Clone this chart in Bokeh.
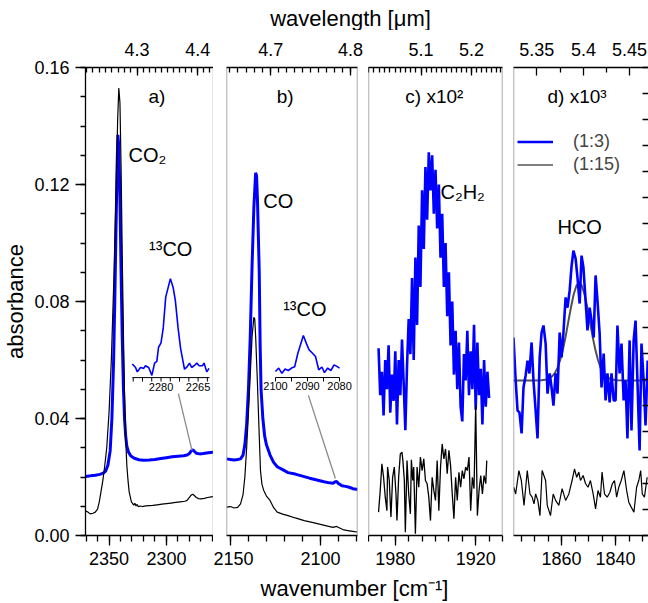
from bokeh.plotting import figure
from bokeh.models import (Range1d, LinearAxis, FixedTicker, SingleIntervalTicker,
                          CustomJSTickFormatter, PrintfTickFormatter, Label, Legend,
                          LegendItem, Span)
from bokeh.layouts import row, column
from bokeh.core.properties import value
from bokeh.embed import file_html
from bokeh.resources import INLINE

FONT = "Liberation Sans"
BLUE = "#0000ff"
BLACK = "#000000"
EDGE = "#8a8a8a"
FIT = "#505050"

# ---------------- data (absorbance as plotted) ----------------
# panel a: CO2 region
a_wn_blk = [2370.5, 2368.5, 2366.5, 2364, 2362, 2360, 2358.5, 2357, 2355.5, 2354, 2352, 2350, 2348, 2346,
            2344, 2342.5, 2341.5, 2340.5, 2339.5, 2338.5, 2337.5, 2336.5, 2335.5, 2334.5, 2333.5, 2332.5,
            2331.5, 2330.5, 2329.5, 2328.5, 2327.5, 2326.5, 2325.5, 2324.5, 2323, 2321, 2318, 2315, 2312,
            2308, 2304, 2300, 2296, 2292, 2288, 2284, 2282, 2280, 2278.5, 2277, 2275.5, 2274, 2272, 2270,
            2267, 2264, 2261, 2259]
a_val_blk = [0.0085, 0.0080, 0.0074, 0.0076, 0.0080, 0.0090, 0.0115, 0.0150, 0.0185, 0.0230, 0.0300, 0.0420,
             0.0600, 0.0850, 0.1150, 0.1420, 0.1530, 0.1480, 0.1260, 0.0960, 0.0700, 0.0480, 0.0330, 0.0240,
             0.0190, 0.0150, 0.0132, 0.0115, 0.0110, 0.0104, 0.0110, 0.0101, 0.0106, 0.0098, 0.0101, 0.0099,
             0.0101, 0.0102, 0.0103, 0.0105, 0.0107, 0.0109, 0.0111, 0.0113, 0.0115, 0.0117, 0.0120, 0.0130,
             0.0138, 0.0141, 0.0136, 0.0130, 0.0126, 0.0125, 0.0127, 0.0130, 0.0132, 0.0133]
a_wn_blu = [2370.5, 2366, 2362, 2358, 2355, 2353, 2351, 2349, 2347.5, 2346, 2345, 2344, 2343, 2342.3, 2341.5,
            2340.5, 2339.5, 2338.5, 2337.5, 2336.5, 2335.5, 2334.5, 2333, 2331, 2328, 2324, 2320, 2315, 2310,
            2305, 2300, 2295, 2290, 2285, 2282, 2280, 2278.5, 2277, 2275.5, 2274, 2271, 2268, 2265, 2262, 2259]
a_val_blu = [0.0202, 0.0204, 0.0206, 0.0209, 0.0213, 0.0220, 0.0240, 0.0290, 0.0400, 0.0600, 0.0800, 0.1030,
             0.1260, 0.1370, 0.1330, 0.1150, 0.0900, 0.0680, 0.0510, 0.0400, 0.0340, 0.0305, 0.0285, 0.0272,
             0.0264, 0.0259, 0.0257, 0.0258, 0.0260, 0.0263, 0.0266, 0.0269, 0.0271, 0.0273, 0.0275, 0.0280,
             0.0289, 0.0293, 0.0287, 0.0281, 0.0279, 0.0280, 0.0282, 0.0284, 0.0285]
# inset a: 13CO2 band (normalised)
ia_wn = [2291.6, 2290.3, 2289.6, 2288.3, 2287.0, 2286.3, 2285.0, 2283.7, 2282.6, 2281.7, 2281.0, 2280.0,
         2279.1, 2278.1, 2277.1, 2276.2, 2275.1, 2274.2, 2273.1, 2272.1, 2271.1, 2270.5, 2269.4, 2268.5,
         2267.6, 2266.6, 2265.5, 2264.6, 2263.2, 2262.6, 2261.5, 2260.6]
ia_val = [0.03, -0.01, -0.06, -0.01, -0.02, 0.01, -0.01, -0.10, 0.04, 0.06, 0.22, 0.27, 0.44, 0.79, 0.90,
          1.0, 0.90, 0.75, 0.44, 0.21, 0.06, -0.03, 0.0, 0.04, -0.01, 0.01, 0.04, 0.01, 0.01, 0.04, -0.06, -0.02]
ia_ticks = [2291.25, 2287.5, 2283.75, 2280, 2276.25, 2272.5, 2268.75, 2265, 2261.25]
ia_labels = [2280, 2265]

# panel b: CO region
b_wn_blu = [2152.2, 2150, 2148, 2146, 2144.4, 2143, 2142, 2141, 2140, 2139, 2138, 2137, 2136, 2135.5, 2135,
            2134, 2133.5, 2133, 2132, 2131, 2130, 2128, 2126, 2124, 2121, 2118, 2114, 2110, 2106, 2102, 2098,
            2095, 2093, 2092, 2091, 2090, 2088, 2086, 2084, 2082, 2080, 2079.4]
b_val_blu = [0.0262, 0.0260, 0.0258, 0.0260, 0.0262, 0.0275, 0.031, 0.038, 0.050, 0.068, 0.092, 0.112, 0.124,
             0.123, 0.115, 0.090, 0.065, 0.050, 0.040, 0.034, 0.031, 0.0275, 0.025, 0.0235, 0.0225, 0.0215,
             0.0210, 0.0203, 0.0196, 0.0190, 0.0184, 0.0180, 0.0179, 0.0183, 0.0185, 0.0178, 0.0170, 0.0168,
             0.0165, 0.0160, 0.0158, 0.0157]
b_wn_blk = [2152.2, 2150, 2148, 2146, 2144.4, 2143, 2142, 2141, 2140, 2139, 2138, 2137, 2136.5, 2136, 2135,
            2134, 2133.3, 2132.5, 2131.5, 2130, 2128, 2126, 2124, 2121, 2118, 2114, 2109, 2104, 2100, 2096,
            2093, 2091, 2089, 2087, 2084, 2081, 2079.4]
b_val_blk = [0.0097, 0.0099, 0.0094, 0.0096, 0.0108, 0.0140, 0.020, 0.030, 0.042, 0.055, 0.068, 0.0746, 0.074,
             0.068, 0.052, 0.034, 0.022, 0.0175, 0.0154, 0.0135, 0.012, 0.0095, 0.0080, 0.0073, 0.0068, 0.0060,
             0.0051, 0.0044, 0.0038, 0.0032, 0.0028, 0.0031, 0.0025, 0.0019, 0.0016, 0.0013, 0.0012]
# inset b: 13CO band (normalised)
ib_wn = [2100, 2099, 2098, 2097, 2096, 2095, 2094, 2093, 2092.5, 2091.3, 2090.3, 2089.5, 2088.5, 2087.5,
         2086.5, 2085.5, 2084.7, 2083.7, 2082.7, 2081.7, 2080.7, 2080]
ib_val = [-0.03, 0.07, -0.08, 0.04, 0.0, 0.07, 0.11, 0.5, 0.64, 1.0, 0.76, 0.59, 0.5, 0.4, 0.02, 0.1, -0.06,
          0.07, 0.0, 0.16, 0.11, 0.07]
ib_ticks = [2100, 2095, 2090, 2085, 2080]
ib_labels = [2100, 2090, 2080]

# panel c: C2H2 region (x10^2, offset)
c_wn_blk = [1992.5, 1991.25, 1990.0, 1988.75, 1987.5, 1986.25, 1985.75, 1984.5, 1983.25, 1982.0, 1980.75,
            1979.5, 1978.75, 1977.5, 1976.25, 1975.0, 1974.25, 1973.25, 1972.5, 1971.25, 1970.0, 1968.75,
            1968.0, 1967.0, 1966.25, 1965.0, 1963.75, 1962.5, 1961.25, 1960.0, 1958.75, 1957.5, 1956.25,
            1955.0, 1953.75, 1952.5, 1951.25, 1950.0, 1948.75, 1947.5, 1946.25, 1945.0, 1943.75, 1942.5,
            1941.25, 1940.0, 1938.75, 1937.5, 1936.25, 1935.0, 1933.75, 1932.5, 1931.25, 1930.0, 1928.75,
            1927.5, 1926.25, 1925.0, 1923.75, 1922.5, 1921.25, 1920.0, 1918.75, 1917.5, 1916.25, 1915.0,
            1913.75, 1912.5, 1911.75]
c_val_blk = [0.0080, 0.0154, 0.0245, 0.0199, 0.0131, 0.0085, 0.0234, 0.0188, 0.0063, 0.0199,
             0.0234, 0.0142, 0.0051, 0.0199, 0.0279, 0.0285, 0.0251, 0.0188, 0.0011, 0.0256,
             0.0142, 0.0074, 0.0259, 0.0188, 0.0234, 0.0006, 0.0234, 0.0165, 0.0268, 0.0222,
             0.0262, 0.0188, 0.0177, 0.0131, 0.0051, 0.0199, 0.0154, 0.0120, 0.0256, 0.0085,
             0.0234, 0.0313, 0.0262, 0.0296, 0.0211, 0.0291, 0.0239, 0.0142, 0.0057, 0.0199,
             0.0120, 0.0216, 0.0165, 0.0222, 0.0194, 0.0234, 0.0222, 0.0268, 0.0085, 0.0199,
             0.0160, 0.0444, 0.0068, 0.0154, 0.0205, 0.0142, 0.0205, 0.0177, 0.0256]
c_wn_blu = [1992.5, 1991.25, 1990.0, 1988.75, 1987.5, 1986.25, 1985.0, 1983.75, 1982.5, 1981.25, 1980.0,
            1978.75, 1977.5, 1976.25, 1975.0, 1973.75, 1972.5, 1971.25, 1970.0, 1968.75, 1967.5, 1966.25,
            1965.0, 1963.75, 1962.5, 1961.25, 1960.0, 1958.75, 1957.5, 1956.25, 1955.0, 1953.75, 1952.5,
            1951.25, 1950.0, 1948.75, 1947.5, 1946.25, 1945.0, 1943.75, 1942.5, 1941.25, 1940.0, 1938.75,
            1937.5, 1936.25, 1935.0, 1933.75, 1932.5, 1931.25, 1930.0, 1928.75, 1927.5, 1926.25, 1925.0,
            1923.75, 1922.5, 1921.25, 1920.0, 1918.75, 1917.5, 1916.25, 1915.0, 1913.75, 1912.5, 1911.25,
            1910.0]
c_val_blu = [0.064, 0.048, 0.056, 0.041, 0.060, 0.050, 0.065, 0.042, 0.055, 0.046,
             0.063, 0.038, 0.060, 0.048, 0.067, 0.052, 0.036, 0.058, 0.074, 0.062,
             0.088, 0.060, 0.095, 0.072, 0.106, 0.085, 0.118, 0.098, 0.126, 0.108,
             0.131, 0.118, 0.130, 0.110, 0.125, 0.105, 0.120, 0.095, 0.110, 0.085,
             0.100, 0.075, 0.090, 0.065, 0.080, 0.055, 0.070, 0.050, 0.066, 0.044,
             0.039, 0.062, 0.053, 0.070, 0.048, 0.063, 0.050, 0.072, 0.043, 0.066,
             0.048, 0.057, 0.038, 0.060, 0.044, 0.056, 0.047]

# panel d: HCO region (x10^3, offset)
d_wn_blu = [1877.8, 1877.0, 1876.3, 1875.6, 1874.8, 1874.1, 1873.3, 1872.6, 1871.9, 1871.1, 1870.4, 1869.6,
            1868.9, 1868.1, 1867.4, 1866.7, 1865.9, 1865.2, 1864.4, 1863.7, 1863.0, 1862.2, 1861.5, 1860.7,
            1860.0, 1859.3, 1858.5, 1857.8, 1857.0, 1856.3, 1855.6, 1854.8, 1854.1, 1853.3, 1852.6, 1851.9,
            1851.1, 1850.4, 1849.6, 1848.9, 1848.1, 1847.4, 1846.7, 1845.9, 1845.2, 1844.4, 1843.7, 1843.0,
            1842.2, 1841.5, 1840.7, 1840.0, 1839.3, 1838.5, 1837.8, 1837.0, 1836.3, 1835.6, 1834.8, 1834.1,
            1833.3, 1832.6, 1831.9, 1831.1, 1830.4, 1829.6, 1828.9, 1828.1]
d_val_blu = [0.0677, 0.0530, 0.0427, 0.0421, 0.0349, 0.0506, 0.0547, 0.0598, 0.0554, 0.0660,
             0.0530, 0.0427, 0.0332, 0.0609, 0.0694, 0.0718, 0.0656, 0.0485, 0.0554, 0.0506,
             0.0444, 0.0554, 0.0485, 0.0694, 0.0609, 0.0694, 0.0814, 0.0779, 0.0838, 0.0920,
             0.0974, 0.0947, 0.0882, 0.0793, 0.0957, 0.0916, 0.0803, 0.0701, 0.0779, 0.0735,
             0.0677, 0.0889, 0.0803, 0.0691, 0.0506, 0.0622, 0.0462, 0.0554, 0.0455, 0.0554,
             0.0462, 0.0462, 0.0718, 0.0554, 0.0656, 0.0462, 0.0530, 0.0332, 0.0667, 0.0359,
             0.0667, 0.0735, 0.0530, 0.0291, 0.0656, 0.0530, 0.0376, 0.0598]
d_wn_blk = [1877.7, 1877.0, 1875.8, 1874.9, 1873.9, 1872.7, 1871.7, 1870.9, 1870.2, 1869.6, 1868.8, 1868.0,
            1867.2, 1865.9, 1865.3, 1864.1, 1863.1, 1862.2, 1861.0, 1859.8, 1858.5, 1857.3, 1856.1, 1855.2,
            1854.4, 1853.6, 1853.0, 1852.0, 1851.1, 1850.2, 1849.3, 1848.3, 1847.4, 1846.5, 1845.6, 1845.0,
            1844.1, 1843.1, 1842.1, 1841.2, 1840.4, 1839.6, 1838.8, 1837.9, 1836.9, 1835.9, 1835.1, 1834.2,
            1833.2, 1832.2, 1831.4, 1830.7, 1830.1, 1829.3, 1828.3]
d_val_blk = [0.0165, 0.0142, 0.0222, 0.0188, 0.0103, 0.0222, 0.0142, 0.0131, 0.0108, 0.0142,
             0.0120, 0.0068, 0.0222, 0.0188, 0.0103, 0.0068, 0.0142, 0.0120, 0.0103, 0.0160,
             0.0120, 0.0142, 0.0188, 0.0228, 0.0199, 0.0217, 0.0188, 0.0205, 0.0177, 0.0165,
             0.0188, 0.0142, 0.0091, 0.0154, 0.0131, 0.0217, 0.0142, 0.0131, 0.0148, 0.0177,
             0.0188, 0.0131, 0.0165, 0.0188, 0.0222, 0.0154, 0.0114, 0.0097, 0.0080, 0.0165,
             0.0188, 0.0222, 0.0142, 0.0131, 0.0199]
d_fit_wn = [1877.8, 1870, 1867.5, 1865.5, 1863.5, 1862.5, 1861.5, 1860.5, 1859.5, 1858.5, 1857.5, 1856.5,
            1855.5, 1854.5, 1853.5, 1852.5, 1851.5, 1850.5, 1849.5, 1848.5, 1847.5, 1846.5, 1845.5, 1844.5,
            1843.5, 1841.5, 1839.5, 1835, 1827.8]
d_fit_val = [0.0530, 0.0530, 0.0531, 0.0533, 0.0544, 0.0555, 0.0573, 0.0600, 0.0636, 0.0680, 0.0731, 0.0781,
             0.0825, 0.0854, 0.0865, 0.0854, 0.0825, 0.0781, 0.0731, 0.0680, 0.0636, 0.0600, 0.0573, 0.0555,
             0.0544, 0.0533, 0.0531, 0.0530, 0.0530]

# axis ticks
y_major = [0.00, 0.04, 0.08, 0.12, 0.16]
y_minor = [0.01 * i for i in range(17)]
wl_major_a, wl_minor_a = [4.3, 4.4], [round(4.22 + 0.01 * i, 2) for i in range(21)]
wl_major_b, wl_minor_b = [4.7, 4.8], [round(4.65 + 0.01 * i, 2) for i in range(16)]
wl_major_c, wl_minor_c = [5.1, 5.2], [round(5.00 + 0.01 * i, 2) for i in range(27)]
wl_major_d, wl_minor_d = [5.35, 5.4, 5.45], [5.375, 5.425]
right_ticks_d = list(range(19))

# ---------------- helpers ----------------
yr = Range1d(0, 0.16)


def style_axis(ax, t_in, t_out, m_in, m_out, standoff):
    ax.axis_line_color = BLACK
    ax.axis_line_width = 1.3
    ax.major_tick_line_color = BLACK
    ax.major_tick_line_width = 1.3
    ax.minor_tick_line_color = BLACK
    ax.minor_tick_line_width = 1.3
    ax.major_tick_in, ax.major_tick_out = t_in, t_out
    ax.minor_tick_in, ax.minor_tick_out = m_in, m_out
    ax.major_label_text_font = FONT
    ax.major_label_text_font_size = "18px"
    ax.major_label_text_color = BLACK
    ax.major_label_standoff = standoff


def panel(xr, width, mbl, mbr, interval, nminor, wl_major, wl_minor, left=False):
    p = figure(width=width, height=542, x_range=xr, y_range=yr, output_backend="svg",
               toolbar_location=None, y_axis_location="left" if left else None,
               min_border_left=mbl, min_border_right=mbr, min_border_top=37, min_border_bottom=37)
    p.outline_line_color = None
    p.xgrid.visible = False
    p.ygrid.visible = False
    xa = p.xaxis[0]
    xa.ticker = SingleIntervalTicker(interval=interval, num_minor_ticks=nminor)
    style_axis(xa, 0, 10, 0, 6, 6)
    ta = LinearAxis(ticker=FixedTicker(ticks=[10000.0 / w for w in wl_major],
                                       minor_ticks=[10000.0 / w for w in wl_minor]),
                    formatter=CustomJSTickFormatter(code="return String(Math.round(1000000/tick)/100);"))
    style_axis(ta, 8, 0, 5, 0, 12)
    p.add_layout(ta, "above")
    return p


def edge(p, loc):
    p.add_layout(Span(location=loc, dimension="height", line_color=EDGE, line_width=1.4))


def txt(p, x, y, s, size, align="left"):
    p.text(x=[x], y=[y], text=[s], text_font=value(FONT), text_font_size=size,
           text_align=align, text_baseline="middle", text_color=BLACK)


# ---------------- panel a ----------------
fa = panel(Range1d(2370.5, 2259), 213, 82, 0, 50, 5, wl_major_a, wl_minor_a, left=True)
ya = fa.yaxis[0]
ya.ticker = FixedTicker(ticks=y_major, minor_ticks=y_minor)
ya.formatter = PrintfTickFormatter(format="%.2f")
style_axis(ya, 0, 10, 0, 5, 6)
ya.axis_label = "absorbance"
ya.axis_label_text_font = FONT
ya.axis_label_text_font_size = "22px"
ya.axis_label_text_font_style = "normal"
ya.axis_label_text_color = BLACK
ya.axis_label_standoff = 3
edge(fa, fa.x_range.end)

fa.line(a_wn_blu, a_val_blu, line_color=BLUE, line_width=3)
fa.line(a_wn_blk, a_val_blk, line_color=BLACK, line_width=1.2)
fa.line([2289.6, 2277.7], [0.0485, 0.029], line_color=EDGE, line_width=1.3)

fa.extra_x_ranges = {"ia": Range1d(2310.55, 2258.77)}
fa.extra_y_ranges = {"ia": Range1d(-1.92, 3.40)}
ia_level, ia_tick = -0.125, 0.045
fa.line(ia_wn, ia_val, x_range_name="ia", y_range_name="ia", line_color=BLUE, line_width=1.6)
fa.line([ia_wn[0], ia_wn[-1] - 0.2], [ia_level, ia_level], x_range_name="ia", y_range_name="ia",
        line_color=BLACK, line_width=1)
fa.segment(x0=ia_ticks, y0=[ia_level] * len(ia_ticks), x1=ia_ticks,
           y1=[ia_level - ia_tick] * len(ia_ticks), x_range_name="ia", y_range_name="ia",
           line_color=BLACK, line_width=1)
fa.text(x=ia_labels, y=[ia_level - ia_tick] * len(ia_labels), text=[str(v) for v in ia_labels],
        x_range_name="ia", y_range_name="ia", text_font=value(FONT), text_font_size="11px",
        text_align="center", text_baseline="top", y_offset=1)

txt(fa, 2308.3, 0.150, "a)", "19px", "center")
txt(fa, 2333.0, 0.130, "CO\u2082", "20px")
txt(fa, 2315.1, 0.098, "\u00b9\u00b3CO", "20px")

# ---------------- panel b ----------------
fb = panel(Range1d(2152.2, 2079.4), 155, 13, 11, 50, 5, wl_major_b, wl_minor_b)
edge(fb, fb.x_range.start)
edge(fb, fb.x_range.end)
fb.line(b_wn_blu, b_val_blu, line_color=BLUE, line_width=3)
fb.line(b_wn_blk, b_val_blk, line_color=BLACK, line_width=1.2)
fb.line([2106.7, 2091.7], [0.0479, 0.0195], line_color=EDGE, line_width=1.3)

fb.extra_x_ranges = {"ib": Range1d(2115.31, 2074.38)}
fb.extra_y_ranges = {"ib": Range1d(-4.714, 8.657)}
ib_level, ib_tick = -0.2, 0.114
fb.line(ib_wn, ib_val, x_range_name="ib", y_range_name="ib", line_color=BLUE, line_width=1.6)
fb.line([ib_ticks[0], ib_ticks[-1]], [ib_level, ib_level], x_range_name="ib", y_range_name="ib",
        line_color=BLACK, line_width=1)
fb.segment(x0=ib_ticks, y0=[ib_level] * len(ib_ticks), x1=ib_ticks,
           y1=[ib_level - ib_tick] * len(ib_ticks), x_range_name="ib", y_range_name="ib",
           line_color=BLACK, line_width=1)
fb.text(x=ib_labels, y=[ib_level - ib_tick] * len(ib_labels), text=[str(v) for v in ib_labels],
        x_range_name="ib", y_range_name="ib", text_font=value(FONT), text_font_size="11px",
        text_align="center", text_baseline="top", y_offset=1)

txt(fb, 2119.6, 0.150, "b)", "19px", "center")
txt(fb, 2131.8, 0.1145, "CO", "20px")
txt(fb, 2120.7, 0.0773, "\u00b9\u00b3CO", "20px")

# ---------------- panel c ----------------
fc = panel(Range1d(2000, 1900), 145, 0, 11, 60, 6, wl_major_c, wl_minor_c)
edge(fc, fc.x_range.start)
edge(fc, fc.x_range.end)
fc.line(c_wn_blu, c_val_blu, line_color=BLUE, line_width=2.6)
fc.line(c_wn_blk, c_val_blk, line_color=BLACK, line_width=1.3)
txt(fc, 1972.5, 0.150, "c) x10\u00b2", "19px")
txt(fc, 1946.3, 0.1173, "C\u2082H\u2082", "20px")

# ---------------- panel d ----------------
fd = panel(Range1d(1877.8, 1827.8), 135, 0, 0, 20, 4, wl_major_d, wl_minor_d)
edge(fd, fd.x_range.start)
fd.extra_y_ranges = {"r": Range1d(0, 18)}
ra = LinearAxis(y_range_name="r", ticker=FixedTicker(ticks=[], minor_ticks=right_ticks_d))
ra.axis_line_color = None
ra.major_tick_line_color = None
ra.minor_tick_in, ra.minor_tick_out = 6, 0
ra.minor_tick_line_color = BLACK
ra.minor_tick_line_width = 1.3
ra.major_label_standoff = 0
fd.add_layout(ra, "right")

fd.line(d_fit_wn, d_fit_val, line_color=FIT, line_width=2)
rb = fd.line(d_wn_blu, d_val_blu, line_color=BLUE, line_width=2.6)
rk = fd.line(d_wn_blk, d_val_blk, line_color=BLACK, line_width=1.2)
txt(fd, 1865.2, 0.150, "d) x10\u00b3", "19px")
txt(fd, 1853.3, 0.1056, "HCO", "20px", "center")

leg = Legend(items=[LegendItem(label=value("(1:3)"), renderers=[rb]),
                    LegendItem(label=value("(1:15)"), renderers=[rk])],
             location=(4, 360), orientation="vertical", padding=0, margin=0, spacing=2,
             glyph_width=36, glyph_height=21, label_height=21, label_standoff=20,
             label_text_font=FONT, label_text_font_size="18px",
             border_line_color=None, background_fill_alpha=0)
fd.add_layout(leg)


# ---------------- shared axis titles ----------------
def strip(h, text, x, y):
    s = figure(width=648, height=h, x_range=Range1d(0, 648), y_range=Range1d(0, h),
               output_backend="svg", toolbar_location=None, x_axis_location=None,
               y_axis_location=None, min_border=0)
    s.outline_line_color = None
    s.xgrid.visible = False
    s.ygrid.visible = False
    s.add_layout(Label(x=x, y=y, text=text, text_align="center", text_baseline="middle",
                       text_font=FONT, text_font_size="22px", text_color=BLACK))
    return s


top = strip(30, "wavelength [\u03bcm]", 350, 12)
bottom = strip(31, "wavenumber [cm\u207b\u00b9]", 354, 15)

layout = column(top, row(fa, fb, fc, fd), bottom)
open("out.html", "w").write(file_html(layout, INLINE))
